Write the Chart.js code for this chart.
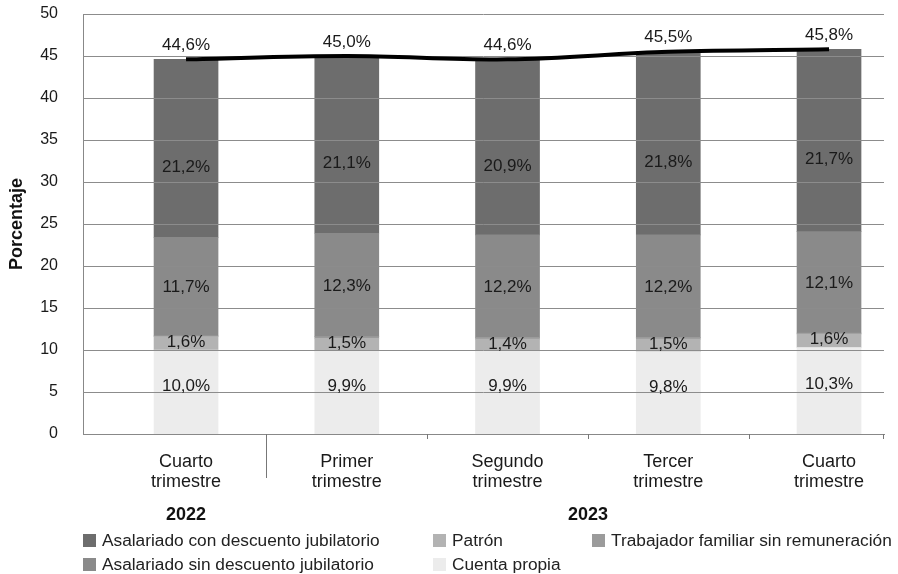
<!DOCTYPE html>
<html>
<head>
<meta charset="utf-8">
<script src="https://cdn.jsdelivr.net/npm/chart.js@4/dist/chart.umd.min.js"></script>
<style>
  html, body { margin: 0; padding: 0; background: #fff; }
  #wrap { position: relative; width: 898px; height: 574px; }
  #legend { position: absolute; left: 0; top: 0; width: 898px; height: 574px; pointer-events: none;
            font-family: "Liberation Sans", Arial, sans-serif; font-size: 17.3px; color: #222; }
  .leg-item { position: absolute; display: flex; align-items: center; white-space: nowrap; }
  .leg-box  { width: 13px; height: 13px; margin-right: 6px; }
</style>
</head>
<body>
<div id="wrap">
  <canvas id="chart" width="898" height="574"></canvas>
  <div id="legend"></div>
</div>
<script>
const categorias   = [['Cuarto', 'trimestre'], ['Primer', 'trimestre'], ['Segundo', 'trimestre'], ['Tercer', 'trimestre'], ['Cuarto', 'trimestre']];
const anios        = ['2022', '2023'];
const aniosDesde   = [0, 1];
const aniosHasta   = [0, 4];

const cuentaPropia       = [10.0, 9.9, 9.9, 9.8, 10.3];
const patron             = [1.6, 1.5, 1.4, 1.5, 1.6];
const trabajadorFamiliar = [0.1, 0.2, 0.2, 0.2, 0.1];
const asalariadoSin      = [11.7, 12.3, 12.2, 12.2, 12.1];
const asalariadoCon      = [21.2, 21.1, 20.9, 21.8, 21.7];
const totales            = [44.6, 45.0, 44.6, 45.5, 45.8];

const FONT = '"Liberation Sans", Arial, sans-serif';
const fmt  = v => `${v.toFixed(1).replace('.', ',')}%`;
const pts  = arr => arr.map((v, i) => ({ x: i, y: v }));

const barDs = (label, data, color, labelOffset, showLabels = true) => ({
  type: 'bar', label, data: pts(data), backgroundColor: color, borderWidth: 0,
  barThickness: 64, order: 1, labelOffset, showLabels,
});

const datasets = [
  barDs('Cuenta propia', cuentaPropia, '#ececec', -6),
  barDs('Patrón', patron, '#b3b3b3', -1),
  barDs('Trabajador familiar sin remuneración', trabajadorFamiliar, '#9b9b9b', 0, false),
  barDs('Asalariado sin descuento jubilatorio', asalariadoSin, '#8a8a8a', 1),
  barDs('Asalariado con descuento jubilatorio', asalariadoCon, '#6d6d6d', 19),
  {
    type: 'line', label: 'Total', data: pts(totales), stack: 'total', order: 0,
    borderColor: '#000', borderWidth: 4, pointRadius: 0, tension: 0.35, fill: false,
  },
];

// gridlines drawn after the bars, before the line
const gridOverBars = {
  id: 'gridOverBars',
  afterDatasetDraw(chart, args) {
    if (args.index !== 0) return;
    const { ctx, chartArea, scales: { y } } = chart;
    ctx.save();
    ctx.strokeStyle = '#8c8c8c';
    ctx.lineWidth = 1;
    y.ticks.forEach(t => {
      if (t.value === 0) return;
      const py = Math.round(y.getPixelForValue(t.value)) + 0.5;
      ctx.beginPath();
      ctx.moveTo(chartArea.left, py);
      ctx.lineTo(chartArea.right, py);
      ctx.stroke();
    });
    ctx.restore();
  },
};

const extras = {
  id: 'extras',
  afterDraw(chart) {
    const { ctx, chartArea, scales: { x, y } } = chart;
    ctx.save();

    // x axis tick marks and year separator
    ctx.strokeStyle = '#777';
    ctx.lineWidth = 1;
    const bottom = chartArea.bottom;
    for (let i = 0; i < categorias.length - 1; i++) {
      const px = Math.round(x.getPixelForValue(i + 0.5)) + 0.5;
      const len = aniosHasta.includes(i) ? 44 : 5;
      ctx.beginPath();
      ctx.moveTo(px, bottom);
      ctx.lineTo(px, bottom + len);
      ctx.stroke();
    }
    ctx.beginPath();
    ctx.moveTo(chartArea.right - 0.5, bottom);
    ctx.lineTo(chartArea.right - 0.5, bottom + 5);
    ctx.stroke();

    // year labels
    ctx.fillStyle = '#111';
    ctx.font = `bold 18px ${FONT}`;
    ctx.textAlign = 'center';
    ctx.textBaseline = 'middle';
    anios.forEach((a, k) => {
      const px = x.getPixelForValue((aniosDesde[k] + aniosHasta[k]) / 2);
      ctx.fillText(a, px, bottom + 81);
    });

    // segment labels
    ctx.font = `17px ${FONT}`;
    ctx.fillStyle = '#1a1a1a';
    chart.data.datasets.forEach((ds, di) => {
      if (ds.type !== 'bar' || !ds.showLabels) return;
      const meta = chart.getDatasetMeta(di);
      meta.data.forEach((el, i) => {
        const cy = (el.y + el.base) / 2 + ds.labelOffset;
        ctx.fillText(fmt(ds.data[i].y), el.x, cy);
      });
    });

    // total labels above the line
    const lineIdx = chart.data.datasets.findIndex(d => d.type === 'line');
    chart.getDatasetMeta(lineIdx).data.forEach((el, i) => {
      ctx.fillText(fmt(totales[i]), el.x, el.y - 14);
    });
    ctx.restore();
  },
};

new Chart(document.getElementById('chart'), {
  data: { datasets },
  options: {
    responsive: false,
    animation: false,
    layout: { padding: { top: 14, right: 14, left: 0, bottom: 0 } },
    plugins: { legend: { display: false }, tooltip: { enabled: false } },
    scales: {
      x: {
        type: 'linear', stacked: true, min: -0.641, max: 4.342, offset: false,
        afterBuildTicks: s => { s.ticks = categorias.map((_, i) => ({ value: i })); },
        afterFit: s => { s.height = 140; s.paddingLeft = 0; s.paddingRight = 0; },
        grid: { display: false, drawTicks: false },
        border: { display: true, color: '#888', width: 1 },
        ticks: {
          autoSkip: false, maxRotation: 0, padding: 18, color: '#1a1a1a',
          font: { family: FONT, size: 18, lineHeight: 1.11 },
          callback: v => categorias[v],
        },
      },
      y: {
        stacked: true, min: 0, max: 50,
        afterFit: s => { s.width = 83; s.paddingTop = 0; s.paddingBottom = 0; },
        grid: { display: false, drawTicks: false },
        border: { display: true, color: '#888', width: 1 },
        ticks: { stepSize: 5, padding: 25, color: '#1a1a1a', font: { family: FONT, size: 16 } },
        title: {
          display: true, text: 'Porcentaje', color: '#111',
          font: { family: FONT, size: 18, weight: 'bold' }, padding: { top: 6, bottom: 0 },
        },
      },
    },
  },
  plugins: [gridOverBars, extras],
});

// legend laid out in three columns like the original
const legendOrden = [
  ['Asalariado con descuento jubilatorio', 83, 540],
  ['Asalariado sin descuento jubilatorio', 83, 564],
  ['Patrón', 433, 540],
  ['Cuenta propia', 433, 564],
  ['Trabajador familiar sin remuneración', 592, 540],
];
const legendEl = document.getElementById('legend');
legendOrden.forEach(([label, left, top]) => {
  const ds = datasets.find(d => d.label === label);
  const item = document.createElement('div');
  item.className = 'leg-item';
  item.style.left = `${left}px`;
  item.style.top = `${top - 10}px`;
  item.style.height = '20px';
  item.innerHTML = `<span class="leg-box" style="background:${ds.backgroundColor}"></span><span>${label}</span>`;
  legendEl.appendChild(item);
});
</script>
</body>
</html>
